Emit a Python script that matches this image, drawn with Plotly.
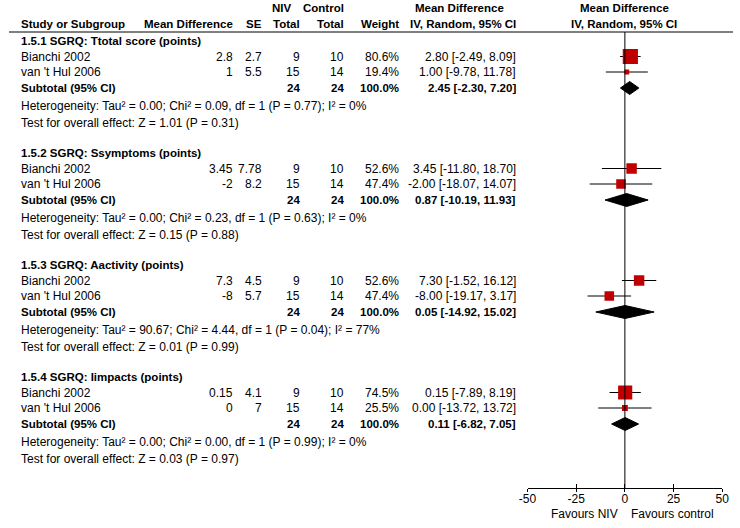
import plotly.graph_objects as go

# forest plot: NIV vs control, SGRQ subscales
sections = [
    "1.5.1 SGRQ: Ttotal score (points)",
    "1.5.2 SGRQ: Ssymptoms (points)",
    "1.5.3 SGRQ: Aactivity (points)",
    "1.5.4 SGRQ: Iimpacts (points)",
]
studies = ["Bianchi 2002", "van 't Hul 2006"]
niv_total = [9, 15]
ctrl_total = [10, 14]

mean_diff = [[2.8, 1], [3.45, -2], [7.3, -8], [0.15, 0]]
std_err = [[2.7, 5.5], [7.78, 8.2], [4.5, 5.7], [4.1, 7]]
weights = [[80.6, 19.4], [52.6, 47.4], [52.6, 47.4], [74.5, 25.5]]
ci_low = [[-2.49, -9.78], [-11.80, -18.07], [-1.52, -19.17], [-7.89, -13.72]]
ci_high = [[8.09, 11.78], [18.70, 14.07], [16.12, 3.17], [8.19, 13.72]]

sub_est = [2.45, 0.87, 0.05, 0.11]
sub_low = [-2.30, -10.19, -14.92, -6.82]
sub_high = [7.20, 11.93, 15.02, 7.05]

tau2 = [0.00, 0.00, 90.67, 0.00]
chi2 = [0.09, 0.23, 4.44, 0.00]
p_het = [0.77, 0.63, 0.04, 0.99]
i2 = [0, 0, 77, 0]
z_val = [1.01, 0.15, 0.01, 0.03]
p_z = [0.31, 0.88, 0.99, 0.97]

x_ticks = [-50, -25, 0, 25, 50]

W, H = 740, 528
FONT = "Arial, Liberation Sans, sans-serif"
RED = "#c00000"

# row layout (pixels from top)
SEC_TOP = 41
SEC_STEP = 112
ROW_OFF = [0, 15.5, 31, 47, 65, 82]  # header, study1, study2, subtotal, het, test
AXIS_Y = 488
HEAD_Y = 32

# text columns (right edge, px)
COL_MD = 231
COL_SE = 261
COL_NIV = 299
COL_CTRL = 344
COL_W = 401
COL_CI = 520
LEFT = 10

fig = go.Figure()
ann = []


def txt(x, y, s, anchor="right", bold=False):
    ann.append(dict(
        x=x / W, y=y, xref="paper", yref="y", text=f"<b>{s}</b>" if bold else s,
        showarrow=False, xanchor=anchor, yanchor="middle",
        font=dict(family=FONT, size=11.5 if bold else 12, color="#000"),
    ))


# header
txt(279, 8, "NIV", "center", True)
txt(COL_CTRL, 8, "Control", "right", True)
txt(460, 8, "Mean Difference", "center", True)
txt(629, 8, "Mean Difference", "center", True)
txt(LEFT, 24, "Study or Subgroup", "left", True)
txt(COL_MD, 24, "Mean Difference", "right", True)
txt(COL_SE, 24, "SE", "right", True)
txt(COL_NIV, 24, "Total", "right", True)
txt(COL_CTRL, 24, "Total", "right", True)
txt(COL_W, 24, "Weight", "right", True)
txt(COL_CI, 24, "IV, Random, 95% CI", "right", True)
txt(629, 24, "IV, Random, 95% CI", "center", True)

for s, name in enumerate(sections):
    y0 = SEC_TOP + s * SEC_STEP
    txt(LEFT, y0, name, "left", True)
    ys = []
    for k, study in enumerate(studies):
        y = y0 + ROW_OFF[1 + k]
        ys.append(y)
        txt(LEFT, y, study, "left")
        txt(COL_MD, y, f"{mean_diff[s][k]:g}")
        txt(COL_SE, y, f"{std_err[s][k]:g}")
        txt(COL_NIV, y, str(niv_total[k]))
        txt(COL_CTRL, y, str(ctrl_total[k]))
        txt(COL_W, y, f"{weights[s][k]:.1f}%")
        txt(COL_CI, y, f"{mean_diff[s][k]:.2f} [{ci_low[s][k]:.2f}, {ci_high[s][k]:.2f}]")
        fig.add_trace(go.Scatter(
            x=[ci_low[s][k], ci_high[s][k]], y=[y, y], mode="lines",
            line=dict(color="#000", width=1), hoverinfo="skip", showlegend=False,
        ))
    fig.add_trace(go.Scatter(
        x=mean_diff[s], y=ys, mode="markers", showlegend=False,
        marker=dict(symbol="square", color=RED, opacity=1, line=dict(width=0),
                    size=[1.5 + 0.17 * w for w in weights[s]]),
    ))
    ysub = y0 + ROW_OFF[3]
    txt(LEFT, ysub, "Subtotal (95% CI)", "left", True)
    txt(COL_NIV, ysub, str(sum(niv_total)), "right", True)
    txt(COL_CTRL, ysub, str(sum(ctrl_total)), "right", True)
    txt(COL_W, ysub, "100.0%", "right", True)
    txt(COL_CI, ysub, f"{sub_est[s]:.2f} [{sub_low[s]:.2f}, {sub_high[s]:.2f}]", "right", True)
    fig.add_trace(go.Scatter(
        x=[sub_low[s], sub_est[s], sub_high[s], sub_est[s], sub_low[s]],
        y=[ysub, ysub - 6.5, ysub, ysub + 6.5, ysub],
        mode="lines", fill="toself", fillcolor="#000",
        line=dict(color="#000", width=1), showlegend=False, hoverinfo="skip",
    ))
    txt(LEFT, y0 + ROW_OFF[4],
        f"Heterogeneity: Tau² = {tau2[s]:.2f}; Chi² = {chi2[s]:.2f}, df = 1 "
        f"(P = {p_het[s]:.2f}); I² = {i2[s]}%", "left")
    txt(LEFT, y0 + ROW_OFF[5],
        f"Test for overall effect: Z = {z_val[s]:.2f} (P = {p_z[s]:.2f})", "left")

txt(625, 514, "Favours NIV", "right")
txt(634, 514, "Favours control", "left")

shapes = [
    dict(type="line", xref="paper", yref="y", x0=0, x1=1, y0=HEAD_Y, y1=HEAD_Y,
         line=dict(color="#000", width=1)),
    dict(type="line", xref="x", yref="y", x0=0, x1=0, y0=HEAD_Y, y1=AXIS_Y,
         line=dict(color="#000", width=1)),
]

axis_pos = (H - AXIS_Y) / H
x_dom = [530 / W, 729 / W]

fig.update_layout(
    width=W, height=H,
    margin=dict(l=0, r=0, t=0, b=0),
    paper_bgcolor="white", plot_bgcolor="rgba(0,0,0,0)",
    showlegend=False,
    annotations=ann, shapes=shapes,
    xaxis=dict(
        domain=x_dom, range=[-50, 50], anchor="free", position=axis_pos,
        tickvals=x_ticks, ticktext=[str(t) for t in x_ticks],
        showline=True, linecolor="#000", linewidth=1,
        ticks="inside", ticklen=4, tickcolor="#000",
        showgrid=False, zeroline=False,
        tickfont=dict(family=FONT, size=12, color="#000"),
    ),
    xaxis2=dict(
        domain=x_dom, range=[-50, 50], anchor="free", position=axis_pos,
        overlaying="x", matches="x", tickvals=x_ticks,
        ticks="outside", ticklen=3, tickcolor="#000",
        showticklabels=False, showgrid=False, zeroline=False,
    ),
    yaxis=dict(range=[H, 0], domain=[0, 1], visible=False),
)
# dummy trace to activate xaxis2
fig.add_trace(go.Scatter(x=[0], y=[-100], xaxis="x2", mode="markers",
                         marker=dict(opacity=0), showlegend=False, hoverinfo="skip"))

# page has a default body margin; drop it so the figure fills the window
fig.write_html("out.html", config={"displayModeBar": False},
               post_script="document.body.style.margin='0';")
